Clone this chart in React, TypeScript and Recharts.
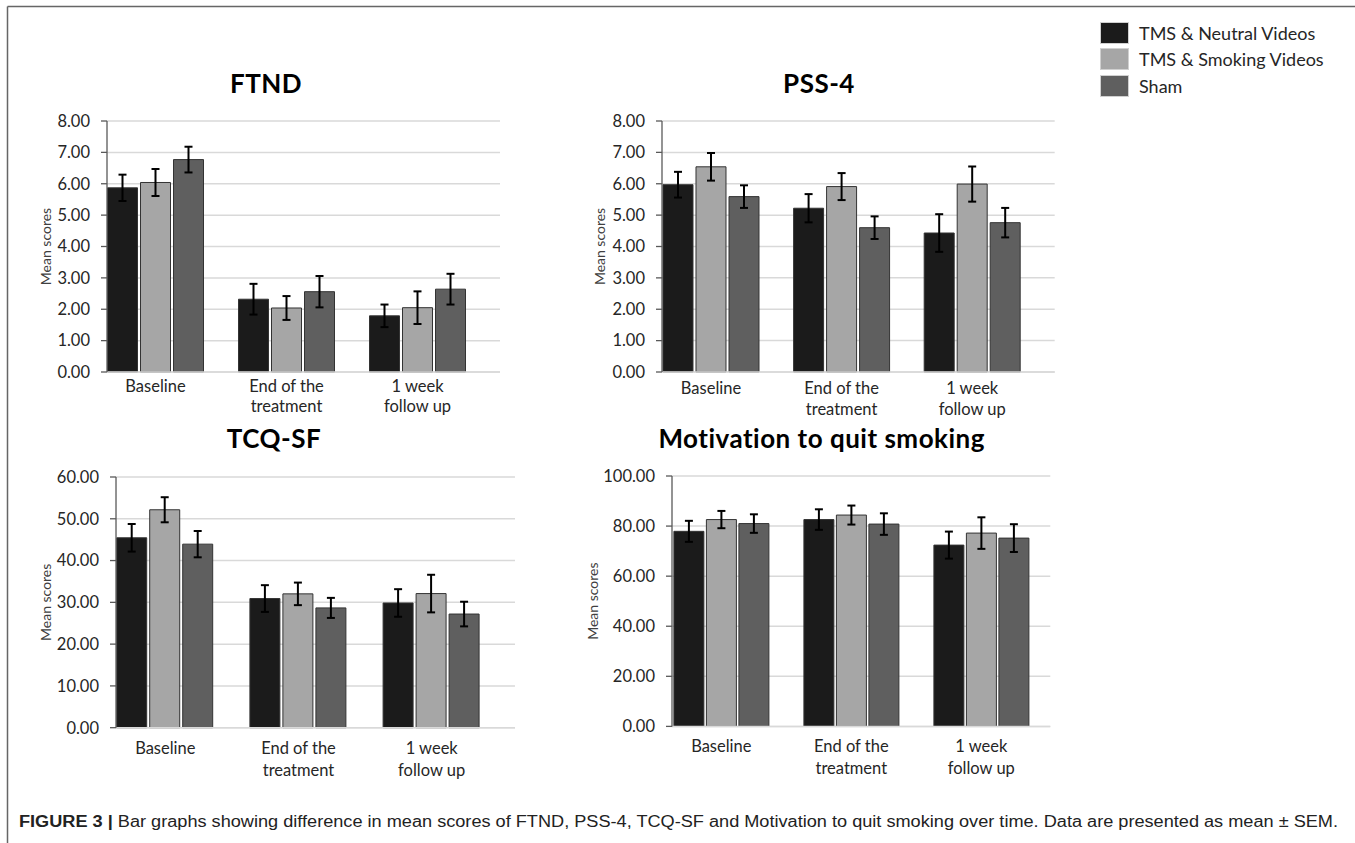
import React from "react";
import { ComposedChart, Bar, XAxis, YAxis, CartesianGrid, ErrorBar } from "recharts";

// categories and groups
const timepoints = ["Baseline", "End of the treatment", "1 week follow up"];
const timepointLines = [["Baseline"], ["End of the", "treatment"], ["1 week", "follow up"]];
const groups = ["TMS & Neutral Videos", "TMS & Smoking Videos", "Sham"];
const groupColors = ["#1b1b1b", "#a6a6a6", "#5f5f5f"];

// FTND
const ftndNeutral = [5.87, 2.32, 1.79];
const ftndSmoking = [6.04, 2.04, 2.05];
const ftndSham = [6.77, 2.56, 2.64];
const ftndNeutralSem = [0.42, 0.49, 0.36];
const ftndSmokingSem = [0.43, 0.38, 0.52];
const ftndShamSem = [0.41, 0.5, 0.49];
const ftndTicks = [0, 1, 2, 3, 4, 5, 6, 7, 8];

// PSS-4
const pssNeutral = [5.97, 5.22, 4.43];
const pssSmoking = [6.54, 5.91, 5.99];
const pssSham = [5.59, 4.6, 4.76];
const pssNeutralSem = [0.41, 0.45, 0.6];
const pssSmokingSem = [0.44, 0.43, 0.56];
const pssShamSem = [0.36, 0.36, 0.47];
const pssTicks = [0, 1, 2, 3, 4, 5, 6, 7, 8];

// TCQ-SF
const tcqNeutral = [45.45, 30.91, 29.85];
const tcqSmoking = [52.16, 32.03, 32.1];
const tcqSham = [43.93, 28.67, 27.2];
const tcqNeutralSem = [3.3, 3.2, 3.3];
const tcqSmokingSem = [3.0, 2.7, 4.5];
const tcqShamSem = [3.15, 2.4, 2.95];
const tcqTicks = [0, 10, 20, 30, 40, 50, 60];

// Motivation to quit smoking
const motNeutral = [77.9, 82.6, 72.4];
const motSmoking = [82.6, 84.4, 77.2];
const motSham = [81.0, 80.8, 75.2];
const motNeutralSem = [4.2, 4.1, 5.4];
const motSmokingSem = [3.45, 3.8, 6.3];
const motShamSem = [3.7, 4.3, 5.55];
const motTicks = [0, 20, 40, 60, 80, 100];

const caption =
  "Bar graphs showing difference in mean scores of FTND, PSS-4, TCQ-SF and Motivation to quit smoking over time. Data are presented as mean \u00b1 SEM.";

const FONT = "Lato, 'Open Sans', sans-serif";
const TEXT = "#262626";

function buildRows(means: number[][], sems: number[][]) {
  return timepoints.map((name, i) => ({
    name,
    m0: means[0][i],
    m1: means[1][i],
    m2: means[2][i],
    e0: sems[0][i],
    e1: sems[1][i],
    e2: sems[2][i],
  }));
}

const Y_W = 87;

function Panel(props: any) {
  const { title, data, ticks, lay } = props;
  const boxLeft = lay.plotLeft - Y_W;
  const boxTop = lay.plotTop - 10;
  const width = lay.plotRight - lay.plotLeft + Y_W + 10;
  const height = lay.plotBottom - lay.plotTop + 10 + 60;
  const labelX = lay.labelX - boxLeft;
  const labelY = (lay.plotTop + lay.plotBottom) / 2 - boxTop;

  const tick = (p: any) => {
    const idx = timepoints.indexOf(p.payload.value);
    const lines = idx >= 0 ? timepointLines[idx] : [p.payload.value];
    return (
      <g>
        {lines.map((l: string, i: number) => (
          <text
            key={i}
            x={p.x}
            y={p.y + lay.tickDy + i * lay.lineGap}
            textAnchor="middle"
            dominantBaseline="central"
            fill={TEXT}
            fontSize={16.5}
            fontFamily={FONT}
          >
            {l}
          </text>
        ))}
      </g>
    );
  };

  const yLabel = () => (
    <text
      x={labelX}
      y={labelY}
      transform={`rotate(-90 ${labelX} ${labelY})`}
      textAnchor="middle"
      dominantBaseline="central"
      fontSize={14}
      fill="#404040"
      fontFamily={FONT}
    >
      Mean scores
    </text>
  );

  return (
    <>
      <div
        style={{
          position: "absolute",
          left: lay.titleX - 300,
          width: 600,
          top: lay.titleY - 16,
          lineHeight: "32px",
          textAlign: "center",
          fontFamily: FONT,
          fontWeight: 700,
          fontSize: 26,
          letterSpacing: 0.5,
          color: "#000",
        }}
      >
        {title}
      </div>
      <div style={{ position: "absolute", left: boxLeft, top: boxTop }}>
        <ComposedChart
          width={width}
          height={height}
          data={data}
          margin={{ top: 10, right: 10, bottom: 5, left: 0 }}
          barCategoryGap={lay.catGap}
          barGap={lay.barGap}
        >
          <CartesianGrid vertical={false} stroke="#d9d9d9" strokeWidth={1.5} />
          <XAxis
            dataKey="name"
            height={55}
            tickLine={false}
            tickSize={0}
            tickMargin={0}
            axisLine={{ stroke: "#d9d9d9", strokeWidth: 1.5 }}
            tick={tick}
            interval={0}
            padding={{ left: lay.padL, right: lay.padR }}
          />
          <YAxis
            type="number"
            width={Y_W}
            domain={[ticks[0], ticks[ticks.length - 1]]}
            ticks={ticks}
            interval={0}
            tickFormatter={(v: number) => v.toFixed(2)}
            tickSize={6}
            tickMargin={11}
            axisLine={{ stroke: "#595959", strokeWidth: 1.3 }}
            tickLine={{ stroke: "#595959", strokeWidth: 1.3 }}
            tick={{ fill: TEXT, fontSize: 16.5, fontFamily: FONT }}
            label={yLabel}
          />
          {[0, 1, 2].map((g) => (
            <Bar
              key={g}
              dataKey={`m${g}`}
              name={groups[g]}
              fill={groupColors[g]}
              stroke="#333"
              strokeWidth={1}
              isAnimationActive={false}
            >
              <ErrorBar dataKey={`e${g}`} width={4} strokeWidth={2} stroke="#000" direction="y" />
            </Bar>
          ))}
        </ComposedChart>
      </div>
    </>
  );
}

const panels = [
  {
    title: "FTND",
    data: buildRows([ftndNeutral, ftndSmoking, ftndSham], [ftndNeutralSem, ftndSmokingSem, ftndShamSem]),
    ticks: ftndTicks,
    lay: { plotLeft: 107, plotRight: 500, plotTop: 120.7, plotBottom: 371.7, padL: -17, padR: 17, catGap: 17.5, barGap: 3, titleX: 266, titleY: 83, labelX: 45.7, tickDy: 14, lineGap: 20 },
  },
  {
    title: "PSS-4",
    data: buildRows([pssNeutral, pssSmoking, pssSham], [pssNeutralSem, pssSmokingSem, pssShamSem]),
    ticks: pssTicks,
    lay: { plotLeft: 662.3, plotRight: 1055, plotTop: 120.7, plotBottom: 371.7, padL: -16.3, padR: 17.2, catGap: 17.3, barGap: 3, titleX: 819, titleY: 83, labelX: 600, tickDy: 16.5, lineGap: 20.5 },
  },
  {
    title: "TCQ-SF",
    data: buildRows([tcqNeutral, tcqSmoking, tcqSham], [tcqNeutralSem, tcqSmokingSem, tcqShamSem]),
    ticks: tcqTicks,
    lay: { plotLeft: 116, plotRight: 515, plotTop: 477, plotBottom: 727.7, padL: -17.3, padR: 16.7, catGap: 18, barGap: 3, titleX: 274, titleY: 438, labelX: 45.7, tickDy: 20, lineGap: 22 },
  },
  {
    title: "Motivation to quit smoking",
    data: buildRows([motNeutral, motSmoking, motSham], [motNeutralSem, motSmokingSem, motShamSem]),
    ticks: motTicks,
    lay: { plotLeft: 671.7, plotRight: 1050, plotTop: 476.3, plotBottom: 726.7, padL: -15.7, padR: 4, catGap: 17.6, barGap: 2.5, titleX: 821.7, titleY: 438, labelX: 592.7, tickDy: 20, lineGap: 21.5 },
  },
];

export default function App() {
  return (
    <div
      style={{
        position: "absolute",
        left: 0,
        top: 0,
        width: 1355,
        height: 843,
        background: "#fff",
        overflow: "hidden",
        fontFamily: FONT,
      }}
    >
      <svg width={1355} height={843} style={{ position: "absolute", left: 0, top: 0 }}>
        <line x1={7.5} y1={6.5} x2={1355} y2={6.5} stroke="#666" strokeWidth={1.5} />
        <line x1={7.5} y1={6.5} x2={7.5} y2={843} stroke="#666" strokeWidth={1.5} />
        <text
          x={19}
          y={827}
          fontFamily="'Liberation Sans', Arial, sans-serif"
          fontSize={16}
          fill="#222"
          textLength={1319}
          lengthAdjust="spacingAndGlyphs"
        >
          <tspan fontWeight={700}>FIGURE 3 | </tspan>
          {caption}
        </text>
      </svg>

      {panels.map((p) => (
        <Panel key={p.title} title={p.title} data={p.data} ticks={p.ticks} lay={p.lay} />
      ))}

      <div style={{ position: "absolute", left: 1100, top: 22 }}>
        {groups.map((g, i) => (
          <div key={g} style={{ display: "flex", alignItems: "center", height: 22, marginBottom: 4.3 }}>
            <div
              style={{
                width: 29,
                height: 22,
                background: groupColors[i],
                boxSizing: "border-box",
                border: "1px solid #d0d0d0",
              }}
            />
            <span style={{ marginLeft: 10, fontSize: 18, color: TEXT, fontFamily: FONT, whiteSpace: "nowrap" }}>{g}</span>
          </div>
        ))}
      </div>
    </div>
  );
}
